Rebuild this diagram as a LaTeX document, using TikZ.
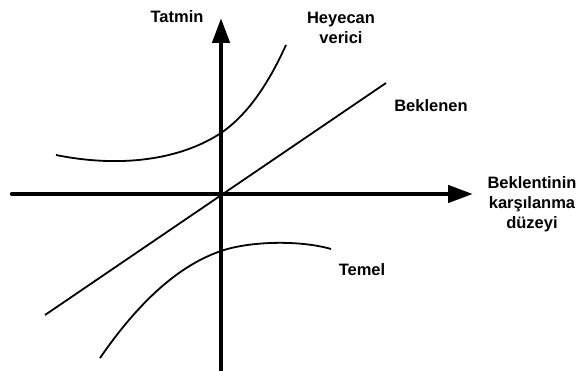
\documentclass[tikz,border=0pt]{standalone}
\usepackage{fontspec}
\setmainfont{Liberation Sans}
\usetikzlibrary{arrows.meta}

\begin{document}
\begin{tikzpicture}[x=1pt, y=-1pt,
  axis/.style={-{Triangle[length=25pt, width=17pt]}, line width=4.5pt},
  curve/.style={line width=1.8pt},
  lbl/.style={font=\fontsize{16.5}{20}\selectfont\bfseries, inner sep=0pt, align=center}]

  \useasboundingbox (0,0) rectangle (578,371);

  % ----- axes -----
  \coordinate (o) at (221,194);
  \coordinate (xl) at (12,194);
  \coordinate (xr) at (473,194);
  \coordinate (yb) at (221,372);
  \coordinate (yt) at (221,18);
  \draw[axis, line cap=round] (xl) -- (xr);
  \draw[axis] (yb) -- (yt);

  % ----- labels -----
  \node[lbl] at (177,17) (tatmin) {Tatmin};
  \node[lbl] at (341,28) (heyecan) {Heyecan\\verici};
  \node[lbl] at (431,106) (beklenen) {Beklenen};
  \node[lbl] at (532,204) (duzey) {Beklentinin\\karşılanma\\düzeyi};
  \node[lbl] at (362,270) (temel) {Temel};

  % ----- curves -----
  \coordinate (b1) at (45,315);
  \coordinate (b2) at (386,83);
  \draw[curve] (b1) -- (b2);

  \draw[curve] (56,155) .. controls (120,168) and (180,160) .. (221,133)
    .. controls (250,113) and (270,80) .. (286,45);

  \draw[curve] (100,358) .. controls (140,300) and (180,265) .. (221,251)
    .. controls (250,241) and (300,240) .. (331,249);

\end{tikzpicture}
\end{document}
